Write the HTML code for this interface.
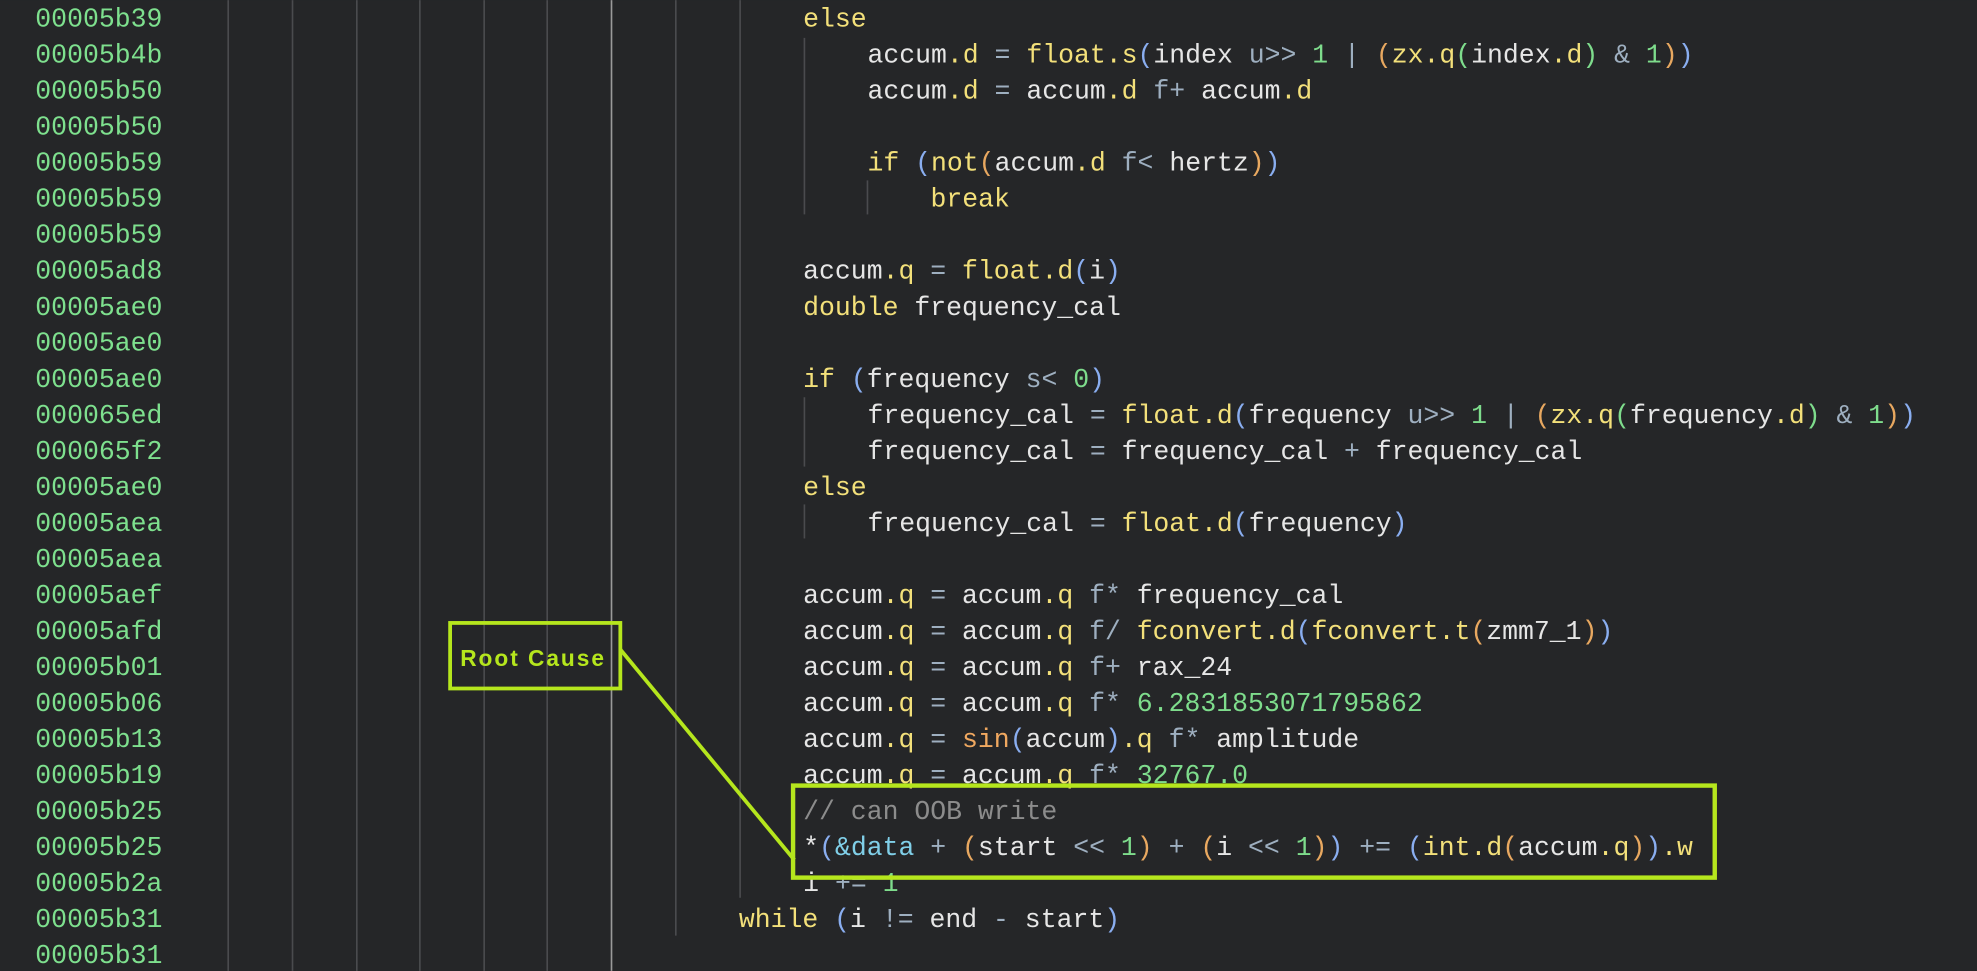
<!DOCTYPE html>
<html><head><meta charset="utf-8"><style>
html,body{margin:0;padding:0;background:#252628;overflow:hidden}
svg{display:block}
text{font-family:"Liberation Mono",monospace;font-size:21px;fill:#e6e6e6}
.a{fill:#7ee08e}.k{fill:#f3e07a}.o{fill:#9eafc0}.n{fill:#7edc8c}.b{fill:#8aaef0}.r{fill:#e8a860}.g{fill:#7edc8c}.c{fill:#8c8c8c}.v{fill:#80cfe8}.s{fill:#f0a860}
.gl{stroke:#4a4b4e;stroke-width:1.3}
</style></head><body>
<svg width="1977" height="971" viewBox="0 0 1568 770" xmlns="http://www.w3.org/2000/svg">
<rect width="1568" height="770" fill="#252628"/>
<g class="gl">
<line x1="181" y1="0" x2="181" y2="770"/><line x1="232" y1="0" x2="232" y2="770"/>
<line x1="283" y1="0" x2="283" y2="770"/><line x1="333" y1="0" x2="333" y2="770"/>
<line x1="384" y1="0" x2="384" y2="770"/><line x1="434" y1="0" x2="434" y2="770"/>
<line x1="485" y1="0" x2="485" y2="770" style="stroke:#9a9a9a"/>
<line x1="536" y1="0" x2="536" y2="742"/>
<line x1="587" y1="0" x2="587" y2="712"/>
<line x1="638" y1="30" x2="638" y2="170"/>
<line x1="688" y1="143" x2="688" y2="170"/>
<line x1="638" y1="315" x2="638" y2="370"/>
<line x1="638" y1="400" x2="638" y2="427"/>
</g>
<g>
<text x="28" y="21" class="a">00005b39</text>
<text x="28" y="49.6" class="a">00005b4b</text>
<text x="28" y="78.1" class="a">00005b50</text>
<text x="28" y="106.7" class="a">00005b50</text>
<text x="28" y="135.3" class="a">00005b59</text>
<text x="28" y="163.9" class="a">00005b59</text>
<text x="28" y="192.4" class="a">00005b59</text>
<text x="28" y="221" class="a">00005ad8</text>
<text x="28" y="249.6" class="a">00005ae0</text>
<text x="28" y="278.1" class="a">00005ae0</text>
<text x="28" y="306.7" class="a">00005ae0</text>
<text x="28" y="335.3" class="a">000065ed</text>
<text x="28" y="363.9" class="a">000065f2</text>
<text x="28" y="392.4" class="a">00005ae0</text>
<text x="28" y="421" class="a">00005aea</text>
<text x="28" y="449.6" class="a">00005aea</text>
<text x="28" y="478.1" class="a">00005aef</text>
<text x="28" y="506.7" class="a">00005afd</text>
<text x="28" y="535.3" class="a">00005b01</text>
<text x="28" y="563.9" class="a">00005b06</text>
<text x="28" y="592.4" class="a">00005b13</text>
<text x="28" y="621" class="a">00005b19</text>
<text x="28" y="649.6" class="a">00005b25</text>
<text x="28" y="678.1" class="a">00005b25</text>
<text x="28" y="706.7" class="a">00005b2a</text>
<text x="28" y="735.3" class="a">00005b31</text>
<text x="28" y="763.9" class="a">00005b31</text>
</g>
<text x="637" y="21" class="k">else</text>
<text x="688" y="49.6">accum<tspan class="k">.d</tspan> <tspan class="o">=</tspan> <tspan class="k">float.s</tspan><tspan class="b">(</tspan>index <tspan class="o">u&gt;&gt;</tspan> <tspan class="n">1</tspan> <tspan class="o">|</tspan> <tspan class="r">(</tspan><tspan class="k">zx.q</tspan><tspan class="g">(</tspan>index<tspan class="k">.d</tspan><tspan class="g">)</tspan> <tspan class="o">&amp;</tspan> <tspan class="n">1</tspan><tspan class="r">)</tspan><tspan class="b">)</tspan></text>
<text x="688" y="78.1">accum<tspan class="k">.d</tspan> <tspan class="o">=</tspan> accum<tspan class="k">.d</tspan> <tspan class="o">f+</tspan> accum<tspan class="k">.d</tspan></text>
<text x="688" y="135.3"><tspan class="k">if</tspan> <tspan class="b">(</tspan><tspan class="k">not</tspan><tspan class="r">(</tspan>accum<tspan class="k">.d</tspan> <tspan class="o">f&lt;</tspan> hertz<tspan class="r">)</tspan><tspan class="b">)</tspan></text>
<text x="738" y="163.9" class="k">break</text>
<text x="637" y="221">accum<tspan class="k">.q</tspan> <tspan class="o">=</tspan> <tspan class="k">float.d</tspan><tspan class="b">(</tspan>i<tspan class="b">)</tspan></text>
<text x="637" y="249.6"><tspan class="k">double</tspan> frequency_cal</text>
<text x="637" y="306.7"><tspan class="k">if</tspan> <tspan class="b">(</tspan>frequency <tspan class="o">s&lt;</tspan> <tspan class="n">0</tspan><tspan class="b">)</tspan></text>
<text x="688" y="335.3">frequency_cal <tspan class="o">=</tspan> <tspan class="k">float.d</tspan><tspan class="b">(</tspan>frequency <tspan class="o">u&gt;&gt;</tspan> <tspan class="n">1</tspan> <tspan class="o">|</tspan> <tspan class="r">(</tspan><tspan class="k">zx.q</tspan><tspan class="g">(</tspan>frequency<tspan class="k">.d</tspan><tspan class="g">)</tspan> <tspan class="o">&amp;</tspan> <tspan class="n">1</tspan><tspan class="r">)</tspan><tspan class="b">)</tspan></text>
<text x="688" y="363.9">frequency_cal <tspan class="o">=</tspan> frequency_cal <tspan class="o">+</tspan> frequency_cal</text>
<text x="637" y="392.4" class="k">else</text>
<text x="688" y="421">frequency_cal <tspan class="o">=</tspan> <tspan class="k">float.d</tspan><tspan class="b">(</tspan>frequency<tspan class="b">)</tspan></text>
<text x="637" y="478.1">accum<tspan class="k">.q</tspan> <tspan class="o">=</tspan> accum<tspan class="k">.q</tspan> <tspan class="o">f*</tspan> frequency_cal</text>
<text x="637" y="506.7">accum<tspan class="k">.q</tspan> <tspan class="o">=</tspan> accum<tspan class="k">.q</tspan> <tspan class="o">f/</tspan> <tspan class="k">fconvert.d</tspan><tspan class="b">(</tspan><tspan class="k">fconvert.t</tspan><tspan class="r">(</tspan>zmm7_1<tspan class="r">)</tspan><tspan class="b">)</tspan></text>
<text x="637" y="535.3">accum<tspan class="k">.q</tspan> <tspan class="o">=</tspan> accum<tspan class="k">.q</tspan> <tspan class="o">f+</tspan> rax_24</text>
<text x="637" y="563.9">accum<tspan class="k">.q</tspan> <tspan class="o">=</tspan> accum<tspan class="k">.q</tspan> <tspan class="o">f*</tspan> <tspan class="n">6.2831853071795862</tspan></text>
<text x="637" y="592.4">accum<tspan class="k">.q</tspan> <tspan class="o">=</tspan> <tspan class="s">sin</tspan><tspan class="b">(</tspan>accum<tspan class="b">)</tspan><tspan class="k">.q</tspan> <tspan class="o">f*</tspan> amplitude</text>
<text x="637" y="621">accum<tspan class="k">.q</tspan> <tspan class="o">=</tspan> accum<tspan class="k">.q</tspan> <tspan class="o">f*</tspan> <tspan class="n">32767.0</tspan></text>
<text x="637" y="649.6" class="c">// can OOB write</text>
<text x="637" y="678.1">*<tspan class="b">(</tspan><tspan class="v">&amp;data</tspan> <tspan class="o">+</tspan> <tspan class="r">(</tspan>start <tspan class="o">&lt;&lt;</tspan> <tspan class="n">1</tspan><tspan class="r">)</tspan> <tspan class="o">+</tspan> <tspan class="r">(</tspan>i <tspan class="o">&lt;&lt;</tspan> <tspan class="n">1</tspan><tspan class="r">)</tspan><tspan class="b">)</tspan> <tspan class="o">+=</tspan> <tspan class="b">(</tspan><tspan class="k">int.d</tspan><tspan class="r">(</tspan>accum<tspan class="k">.q</tspan><tspan class="r">)</tspan><tspan class="b">)</tspan><tspan class="k">.w</tspan></text>
<text x="637" y="706.7">i <tspan class="o">+=</tspan> <tspan class="n">1</tspan></text>
<text x="586" y="735.3"><tspan class="k">while</tspan> <tspan class="b">(</tspan>i <tspan class="o">!=</tspan> end <tspan class="o">-</tspan> start<tspan class="b">)</tspan></text>
<rect x="357" y="494" width="135" height="52" fill="none" stroke="#b5e61d" stroke-width="3"/>
<text x="365" y="528" style="font-family:'Liberation Sans',sans-serif;font-weight:bold;font-size:18px;fill:#b5e61d" textLength="114">Root Cause</text>
<line x1="492" y1="515" x2="630" y2="682" stroke="#b5e61d" stroke-width="3"/>
<rect x="629" y="623" width="731" height="73" fill="none" stroke="#b5e61d" stroke-width="3.5"/>
</svg>
</body></html>
